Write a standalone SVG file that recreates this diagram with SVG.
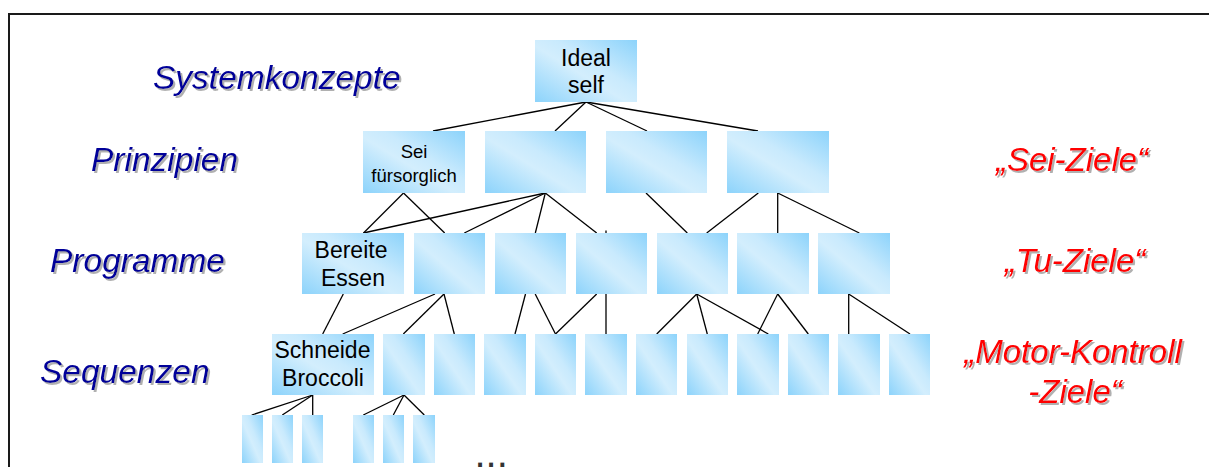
<svg xmlns="http://www.w3.org/2000/svg" width="1209" height="467" viewBox="0 0 1209 467">
  <defs>
    <!-- diagonal sky-blue fill used by every box -->
    <linearGradient id="boxFill" x1="0" y1="1" x2="1" y2="0">
      <stop offset="0" stop-color="#8CD3FB"/>
      <stop offset="0.45" stop-color="#D3EEFD"/>
      <stop offset="0.6" stop-color="#C9EAFD"/>
      <stop offset="1" stop-color="#8CD3FB"/>
    </linearGradient>
    <filter id="shadow" x="-5%" y="-20%" width="115%" height="150%">
      <feDropShadow dx="2" dy="2" stdDeviation="0.6" flood-color="#a8a8a8" flood-opacity="0.9"/>
    </filter>
  </defs>
  <style>
    .box { fill: url(#boxFill); }
    .node-text { font-family: "Liberation Sans", Arial, sans-serif; font-size: 23px; fill: #000; text-anchor: middle; }
    .small { font-size: 18.5px; }
    .level { font-family: "Liberation Sans", Arial, sans-serif; font-style: italic; font-size: 33.5px; fill: #000099; filter: url(#shadow); }
    .goal { font-family: "Liberation Sans", Arial, sans-serif; font-style: italic; font-size: 33px; fill: #FF0000; text-anchor: middle; filter: url(#shadow); }
    .links line { stroke: #000; stroke-width: 1.3; }
  </style>

  <rect x="0" y="0" width="1209" height="467" fill="#fff"/>
  <!-- outer frame -->
  <rect x="9" y="14" width="1220" height="480" fill="none" stroke="#1a1a1a" stroke-width="2"/>

  <!-- level labels -->
  <g id="level-labels">
    <text class="level" x="153" y="89">Systemkonzepte</text>
    <text class="level" x="91" y="171">Prinzipien</text>
    <text class="level" x="50" y="272">Programme</text>
    <text class="level" x="40" y="383">Sequenzen</text>
  </g>

  <!-- goal labels -->
  <g id="goal-labels">
    <text class="goal" x="1072" y="171">„Sei-Ziele“</text>
    <text class="goal" x="1075" y="272">„Tu-Ziele“</text>
    <text class="goal" x="1073" y="363">„Motor-Kontroll</text>
    <text class="goal" x="1075" y="403">-Ziele“</text>
  </g>

  <!-- connectors -->
  <g id="connectors" class="links">
    <!-- level 1 to level 2 -->
    <line x1="586" y1="102" x2="433" y2="131"/>
    <line x1="586" y1="102" x2="555" y2="131"/>
    <line x1="586" y1="102" x2="647" y2="131"/>
    <line x1="586" y1="102" x2="758" y2="131"/>
    <!-- level 2 to level 3 -->
    <line x1="403.5" y1="193" x2="363.5" y2="233"/>
    <line x1="403.5" y1="193" x2="444.7" y2="233"/>
    <line x1="545.3" y1="193" x2="363.3" y2="233"/>
    <line x1="545.3" y1="193" x2="464.3" y2="233"/>
    <line x1="545.3" y1="193" x2="535.3" y2="233"/>
    <line x1="545.3" y1="193" x2="596.7" y2="233"/>
    <line x1="646" y1="193" x2="687.3" y2="233"/>
    <line x1="758.3" y1="193" x2="706.7" y2="233"/>
    <line x1="777.7" y1="193" x2="777.7" y2="233"/>
    <line x1="777.7" y1="193" x2="859.3" y2="233"/>
    <line x1="606" y1="230.5" x2="606" y2="233"/>
    <!-- level 3 to level 4 -->
    <line x1="343.3" y1="294" x2="322.7" y2="334"/>
    <line x1="435" y1="294" x2="342.7" y2="334"/>
    <line x1="444" y1="294" x2="403.3" y2="334"/>
    <line x1="444" y1="294" x2="454.3" y2="334"/>
    <line x1="525.5" y1="294" x2="515" y2="334"/>
    <line x1="535.2" y1="294" x2="555.5" y2="334"/>
    <line x1="596.7" y1="294" x2="555.5" y2="334"/>
    <line x1="606" y1="294" x2="606" y2="334"/>
    <line x1="696.7" y1="294" x2="656.7" y2="334"/>
    <line x1="696.7" y1="294" x2="707.3" y2="334"/>
    <line x1="696.7" y1="294" x2="768.3" y2="334"/>
    <line x1="777.7" y1="294" x2="757.7" y2="334"/>
    <line x1="777.7" y1="294" x2="808.3" y2="334"/>
    <line x1="848.7" y1="294" x2="848.7" y2="334"/>
    <line x1="848.7" y1="294" x2="910" y2="334"/>
    <!-- level 4 to level 5 -->
    <line x1="312.7" y1="395" x2="251.7" y2="415"/>
    <line x1="312.7" y1="395" x2="282.3" y2="415"/>
    <line x1="312.7" y1="395" x2="312.7" y2="415"/>
    <line x1="404" y1="395" x2="363.3" y2="415"/>
    <line x1="404" y1="395" x2="393.3" y2="415"/>
    <line x1="404" y1="395" x2="424.3" y2="415"/>
  </g>

  <!-- level 1 -->
  <g id="ideal-self">
    <rect class="box" x="535" y="40" width="102" height="62"/>
    <text class="node-text" x="586" y="66">Ideal</text>
    <text class="node-text" x="586" y="93">self</text>
  </g>

  <!-- level 2 -->
  <g id="sei-fuersorglich">
    <rect class="box" x="363" y="131" width="102" height="62"/>
    <text class="node-text small" x="414" y="158">Sei</text>
    <text class="node-text small" x="414" y="181.5">fürsorglich</text>
  </g>
  <g id="principle-2"><rect class="box" x="485" y="131" width="101" height="62"/></g>
  <g id="principle-3"><rect class="box" x="606" y="131" width="101" height="62"/></g>
  <g id="principle-4"><rect class="box" x="727" y="131" width="102" height="62"/></g>

  <!-- level 3 -->
  <g id="bereite-essen">
    <rect class="box" x="302" y="233" width="102" height="61"/>
    <text class="node-text" x="351" y="258">Bereite</text>
    <text class="node-text" x="353" y="285.5">Essen</text>
  </g>
  <g id="program-2"><rect class="box" x="414" y="233" width="71" height="61"/></g>
  <g id="program-3"><rect class="box" x="495" y="233" width="71" height="61"/></g>
  <g id="program-4"><rect class="box" x="576" y="233" width="71" height="61"/></g>
  <g id="program-5"><rect class="box" x="657" y="233" width="71" height="61"/></g>
  <g id="program-6"><rect class="box" x="737" y="233" width="72" height="61"/></g>
  <g id="program-7"><rect class="box" x="818" y="233" width="72" height="61"/></g>

  <!-- level 4 -->
  <g id="schneide-broccoli">
    <rect class="box" x="272" y="334" width="102" height="61"/>
    <text class="node-text" x="322.5" y="358">Schneide</text>
    <text class="node-text" x="323" y="386">Broccoli</text>
  </g>
  <g id="sequence-2"><rect class="box" x="383" y="334" width="42" height="61"/></g>
  <g id="sequence-3"><rect class="box" x="434" y="334" width="41" height="61"/></g>
  <g id="sequence-4"><rect class="box" x="484" y="334" width="42" height="61"/></g>
  <g id="sequence-5"><rect class="box" x="535" y="334" width="41" height="61"/></g>
  <g id="sequence-6"><rect class="box" x="585" y="334" width="42" height="61"/></g>
  <g id="sequence-7"><rect class="box" x="636" y="334" width="41" height="61"/></g>
  <g id="sequence-8"><rect class="box" x="687" y="334" width="41" height="61"/></g>
  <g id="sequence-9"><rect class="box" x="737" y="334" width="42" height="61"/></g>
  <g id="sequence-10"><rect class="box" x="788" y="334" width="41" height="61"/></g>
  <g id="sequence-11"><rect class="box" x="838" y="334" width="42" height="61"/></g>
  <g id="sequence-12"><rect class="box" x="889" y="334" width="41" height="61"/></g>

  <!-- level 5 -->
  <g id="motor-1"><rect class="box" x="242" y="415" width="21" height="48"/></g>
  <g id="motor-2"><rect class="box" x="272" y="415" width="21" height="48"/></g>
  <g id="motor-3"><rect class="box" x="302" y="415" width="21" height="48"/></g>
  <g id="motor-4"><rect class="box" x="353" y="415" width="21" height="48"/></g>
  <g id="motor-5"><rect class="box" x="383" y="415" width="21" height="48"/></g>
  <g id="motor-6"><rect class="box" x="413" y="415" width="22" height="48"/></g>

  <!-- continuation mark -->
  <text x="474.5" y="467" font-family="Liberation Sans, Arial, sans-serif" font-size="40" fill="#333">...</text>
</svg>
